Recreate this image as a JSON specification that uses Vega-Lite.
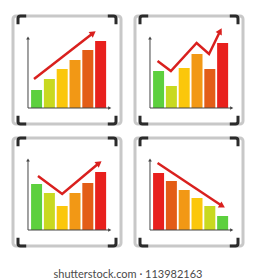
{
  "$schema": "https://vega.github.io/schema/vega-lite/v6.json",
  "padding": {"left": 10, "top": 8, "right": 0, "bottom": 0},
  "background": "#ffffff",
  "bounds": "flush",
  "title": {"text": "shutterstock.com · 113982163", "orient": "bottom", "anchor": "middle", "font": "Lato", "fontSize": 11, "fontWeight": "normal", "color": "#4a4a4a", "offset": 15, "baseline": "top"},
  "datasets": {
    "bars1": [{"x": 1, "y": 18, "level": 1}, {"x": 2, "y": 29, "level": 2}, {"x": 3, "y": 39, "level": 3}, {"x": 4, "y": 48, "level": 4}, {"x": 5, "y": 58, "level": 5}, {"x": 6, "y": 67, "level": 6}],
    "bars2": [{"x": 1, "y": 37, "level": 1}, {"x": 2, "y": 22, "level": 2}, {"x": 3, "y": 40, "level": 3}, {"x": 4, "y": 54, "level": 4}, {"x": 5, "y": 39, "level": 5}, {"x": 6, "y": 65, "level": 6}],
    "bars3": [{"x": 1, "y": 46, "level": 1}, {"x": 2, "y": 37, "level": 2}, {"x": 3, "y": 24, "level": 3}, {"x": 4, "y": 37, "level": 4}, {"x": 5, "y": 47, "level": 5}, {"x": 6, "y": 58, "level": 6}],
    "bars4": [{"x": 1, "y": 57, "level": 6}, {"x": 2, "y": 49, "level": 5}, {"x": 3, "y": 40, "level": 4}, {"x": 4, "y": 32, "level": 3}, {"x": 5, "y": 24, "level": 2}, {"x": 6, "y": 14, "level": 1}],
    "line1": [{"x": 0.8, "y": 29}, {"x": 5.42, "y": 75}],
    "line2": [{"x": 0.92, "y": 47}, {"x": 1.96, "y": 37}, {"x": 3.97, "y": 65}, {"x": 4.94, "y": 54}, {"x": 5.81, "y": 77}],
    "line3": [{"x": 1.11, "y": 54}, {"x": 3.0, "y": 36}, {"x": 5.88, "y": 67}],
    "line4": [{"x": 0.92, "y": 67}, {"x": 5.97, "y": 24}],
    "one": [{}]
  },
  "columns": 2,
  "spacing": 14,
  "concat": [
    {
      "width": 108, "height": 108,
      "layer": [
        {"data": {"name": "bars1"}, "mark": {"type": "bar", "size": 11, "orient": "vertical"},
         "encoding": {
           "x": {"field": "x", "type": "quantitative", "title": null, "scale": {"domain": [-0.45, 7.2], "nice": false, "zero": false}, "axis": {"disable": false, "values": [-0.261, 0.33, 0.921, 1.512, 2.103, 2.694, 3.285, 3.876, 4.467, 5.058, 5.649, 6.24, 6.832], "grid": true, "gridColor": "#cccccc", "gridOpacity": 1, "gridWidth": 1, "domain": false, "ticks": false, "labels": false}},
           "y": {"field": "y", "type": "quantitative", "title": null, "scale": {"domain": [-16, 92], "nice": false, "zero": false}, "axis": {"disable": false, "values": [-10.67, -2.33, 6, 14.33, 22.67, 31, 39.33, 47.67, 56, 64.33, 72.67, 81, 89.33], "grid": true, "gridColor": "#cccccc", "gridOpacity": 1, "gridWidth": 1, "domain": false, "ticks": false, "labels": false}},
           "color": {"field": "level", "type": "ordinal", "scale": {"domain": [1, 2, 3, 4, 5, 6], "range": ["#5dd03e", "#c8d920", "#fbc70b", "#f29815", "#e35d17", "#e8201d"]}, "legend": null}}},
        {"data": {"name": "one"}, "mark": {"type": "rule", "color": "#454545", "strokeWidth": 1}, "encoding": {"x": {"datum": 0.33, "axis": null}, "y": {"datum": 0, "axis": null}, "y2": {"datum": 70}}},
        {"data": {"name": "one"}, "mark": {"type": "rule", "color": "#454545", "strokeWidth": 1}, "encoding": {"x": {"datum": 0.33, "axis": null}, "x2": {"datum": 6.71}, "y": {"datum": 0, "axis": null}}},
        {"data": {"name": "one"}, "mark": {"type": "point", "shape": "triangle-up", "filled": true, "size": 14, "color": "#454545", "opacity": 1}, "encoding": {"x": {"datum": 0.33, "axis": null}, "y": {"datum": 70, "axis": null}}},
        {"data": {"name": "one"}, "mark": {"type": "point", "shape": "triangle-right", "filled": true, "size": 14, "color": "#454545", "opacity": 1}, "encoding": {"x": {"datum": 6.71, "axis": null}, "y": {"datum": 0, "axis": null}}},
        {"data": {"name": "line1"}, "mark": {"type": "line", "color": "#d9201e", "strokeWidth": 2.5}, "encoding": {"x": {"field": "x", "type": "quantitative", "axis": null}, "y": {"field": "y", "type": "quantitative", "axis": null}}},
        {"data": {"name": "one"}, "mark": {"type": "point", "shape": "triangle-up", "filled": true, "size": 50, "color": "#d9201e", "angle": 54, "opacity": 1}, "encoding": {"x": {"datum": 5.42, "axis": null}, "y": {"datum": 75, "axis": null}}},
        {"data": {"name": "one"}, "mark": {"type": "point", "shape": "M 0 2.6 L 0 0.8 Q 0 0 0.8 0 L 2.6 0", "filled": false, "size": 40, "stroke": "#2b2b2b", "strokeWidth": 3, "opacity": 1}, "encoding": {"x": {"datum": -0.45, "axis": null}, "y": {"datum": 92, "axis": null}}},
        {"data": {"name": "one"}, "mark": {"type": "point", "shape": "M 0 2.6 L 0 0.8 Q 0 0 -0.8 0 L -2.6 0", "filled": false, "size": 40, "stroke": "#2b2b2b", "strokeWidth": 3, "opacity": 1}, "encoding": {"x": {"datum": 7.2, "axis": null}, "y": {"datum": 92, "axis": null}}},
        {"data": {"name": "one"}, "mark": {"type": "point", "shape": "M 0 -2.6 L 0 -0.8 Q 0 0 0.8 0 L 2.6 0", "filled": false, "size": 40, "stroke": "#2b2b2b", "strokeWidth": 3, "opacity": 1}, "encoding": {"x": {"datum": -0.45, "axis": null}, "y": {"datum": -16, "axis": null}}},
        {"data": {"name": "one"}, "mark": {"type": "point", "shape": "M 0 -2.6 L 0 -0.8 Q 0 0 -0.8 0 L -2.6 0", "filled": false, "size": 40, "stroke": "#2b2b2b", "strokeWidth": 3, "opacity": 1}, "encoding": {"x": {"datum": 7.2, "axis": null}, "y": {"datum": -16, "axis": null}}}
      ]
    },
    {
      "width": 108, "height": 108,
      "layer": [
        {"data": {"name": "bars2"}, "mark": {"type": "bar", "size": 11, "orient": "vertical"},
         "encoding": {
           "x": {"field": "x", "type": "quantitative", "title": null, "scale": {"domain": [-0.45, 7.2], "nice": false, "zero": false}, "axis": {"disable": false, "values": [-0.261, 0.33, 0.921, 1.512, 2.103, 2.694, 3.285, 3.876, 4.467, 5.058, 5.649, 6.24, 6.832], "grid": true, "gridColor": "#cccccc", "gridOpacity": 1, "gridWidth": 1, "domain": false, "ticks": false, "labels": false}},
           "y": {"field": "y", "type": "quantitative", "title": null, "scale": {"domain": [-16, 92], "nice": false, "zero": false}, "axis": {"disable": false, "values": [-10.67, -2.33, 6, 14.33, 22.67, 31, 39.33, 47.67, 56, 64.33, 72.67, 81, 89.33], "grid": true, "gridColor": "#cccccc", "gridOpacity": 1, "gridWidth": 1, "domain": false, "ticks": false, "labels": false}},
           "color": {"field": "level", "type": "ordinal", "scale": {"domain": [1, 2, 3, 4, 5, 6], "range": ["#5dd03e", "#c8d920", "#fbc70b", "#f29815", "#e35d17", "#e8201d"]}, "legend": null}}},
        {"data": {"name": "one"}, "mark": {"type": "rule", "color": "#454545", "strokeWidth": 1}, "encoding": {"x": {"datum": 0.33, "axis": null}, "y": {"datum": 0, "axis": null}, "y2": {"datum": 70}}},
        {"data": {"name": "one"}, "mark": {"type": "rule", "color": "#454545", "strokeWidth": 1}, "encoding": {"x": {"datum": 0.33, "axis": null}, "x2": {"datum": 6.71}, "y": {"datum": 0, "axis": null}}},
        {"data": {"name": "one"}, "mark": {"type": "point", "shape": "triangle-up", "filled": true, "size": 14, "color": "#454545", "opacity": 1}, "encoding": {"x": {"datum": 0.33, "axis": null}, "y": {"datum": 70, "axis": null}}},
        {"data": {"name": "one"}, "mark": {"type": "point", "shape": "triangle-right", "filled": true, "size": 14, "color": "#454545", "opacity": 1}, "encoding": {"x": {"datum": 6.71, "axis": null}, "y": {"datum": 0, "axis": null}}},
        {"data": {"name": "line2"}, "mark": {"type": "line", "color": "#d9201e", "strokeWidth": 2.5}, "encoding": {"x": {"field": "x", "type": "quantitative", "axis": null}, "y": {"field": "y", "type": "quantitative", "axis": null}}},
        {"data": {"name": "one"}, "mark": {"type": "point", "shape": "triangle-up", "filled": true, "size": 50, "color": "#d9201e", "angle": 29, "opacity": 1}, "encoding": {"x": {"datum": 5.81, "axis": null}, "y": {"datum": 77, "axis": null}}},
        {"data": {"name": "one"}, "mark": {"type": "point", "shape": "M 0 2.6 L 0 0.8 Q 0 0 0.8 0 L 2.6 0", "filled": false, "size": 40, "stroke": "#2b2b2b", "strokeWidth": 3, "opacity": 1}, "encoding": {"x": {"datum": -0.45, "axis": null}, "y": {"datum": 92, "axis": null}}},
        {"data": {"name": "one"}, "mark": {"type": "point", "shape": "M 0 2.6 L 0 0.8 Q 0 0 -0.8 0 L -2.6 0", "filled": false, "size": 40, "stroke": "#2b2b2b", "strokeWidth": 3, "opacity": 1}, "encoding": {"x": {"datum": 7.2, "axis": null}, "y": {"datum": 92, "axis": null}}},
        {"data": {"name": "one"}, "mark": {"type": "point", "shape": "M 0 -2.6 L 0 -0.8 Q 0 0 0.8 0 L 2.6 0", "filled": false, "size": 40, "stroke": "#2b2b2b", "strokeWidth": 3, "opacity": 1}, "encoding": {"x": {"datum": -0.45, "axis": null}, "y": {"datum": -16, "axis": null}}},
        {"data": {"name": "one"}, "mark": {"type": "point", "shape": "M 0 -2.6 L 0 -0.8 Q 0 0 -0.8 0 L -2.6 0", "filled": false, "size": 40, "stroke": "#2b2b2b", "strokeWidth": 3, "opacity": 1}, "encoding": {"x": {"datum": 7.2, "axis": null}, "y": {"datum": -16, "axis": null}}}
      ]
    },
    {
      "width": 108, "height": 108,
      "layer": [
        {"data": {"name": "bars3"}, "mark": {"type": "bar", "size": 11, "orient": "vertical"},
         "encoding": {
           "x": {"field": "x", "type": "quantitative", "title": null, "scale": {"domain": [-0.45, 7.2], "nice": false, "zero": false}, "axis": {"disable": false, "values": [-0.261, 0.33, 0.921, 1.512, 2.103, 2.694, 3.285, 3.876, 4.467, 5.058, 5.649, 6.24, 6.832], "grid": true, "gridColor": "#cccccc", "gridOpacity": 1, "gridWidth": 1, "domain": false, "ticks": false, "labels": false}},
           "y": {"field": "y", "type": "quantitative", "title": null, "scale": {"domain": [-16, 92], "nice": false, "zero": false}, "axis": {"disable": false, "values": [-10.67, -2.33, 6, 14.33, 22.67, 31, 39.33, 47.67, 56, 64.33, 72.67, 81, 89.33], "grid": true, "gridColor": "#cccccc", "gridOpacity": 1, "gridWidth": 1, "domain": false, "ticks": false, "labels": false}},
           "color": {"field": "level", "type": "ordinal", "scale": {"domain": [1, 2, 3, 4, 5, 6], "range": ["#5dd03e", "#c8d920", "#fbc70b", "#f29815", "#e35d17", "#e8201d"]}, "legend": null}}},
        {"data": {"name": "one"}, "mark": {"type": "rule", "color": "#454545", "strokeWidth": 1}, "encoding": {"x": {"datum": 0.33, "axis": null}, "y": {"datum": 0, "axis": null}, "y2": {"datum": 70}}},
        {"data": {"name": "one"}, "mark": {"type": "rule", "color": "#454545", "strokeWidth": 1}, "encoding": {"x": {"datum": 0.33, "axis": null}, "x2": {"datum": 6.71}, "y": {"datum": 0, "axis": null}}},
        {"data": {"name": "one"}, "mark": {"type": "point", "shape": "triangle-up", "filled": true, "size": 14, "color": "#454545", "opacity": 1}, "encoding": {"x": {"datum": 0.33, "axis": null}, "y": {"datum": 70, "axis": null}}},
        {"data": {"name": "one"}, "mark": {"type": "point", "shape": "triangle-right", "filled": true, "size": 14, "color": "#454545", "opacity": 1}, "encoding": {"x": {"datum": 6.71, "axis": null}, "y": {"datum": 0, "axis": null}}},
        {"data": {"name": "line3"}, "mark": {"type": "line", "color": "#d9201e", "strokeWidth": 2.5}, "encoding": {"x": {"field": "x", "type": "quantitative", "axis": null}, "y": {"field": "y", "type": "quantitative", "axis": null}}},
        {"data": {"name": "one"}, "mark": {"type": "point", "shape": "triangle-up", "filled": true, "size": 50, "color": "#d9201e", "angle": 53, "opacity": 1}, "encoding": {"x": {"datum": 5.88, "axis": null}, "y": {"datum": 67, "axis": null}}},
        {"data": {"name": "one"}, "mark": {"type": "point", "shape": "M 0 2.6 L 0 0.8 Q 0 0 0.8 0 L 2.6 0", "filled": false, "size": 40, "stroke": "#2b2b2b", "strokeWidth": 3, "opacity": 1}, "encoding": {"x": {"datum": -0.45, "axis": null}, "y": {"datum": 92, "axis": null}}},
        {"data": {"name": "one"}, "mark": {"type": "point", "shape": "M 0 2.6 L 0 0.8 Q 0 0 -0.8 0 L -2.6 0", "filled": false, "size": 40, "stroke": "#2b2b2b", "strokeWidth": 3, "opacity": 1}, "encoding": {"x": {"datum": 7.2, "axis": null}, "y": {"datum": 92, "axis": null}}},
        {"data": {"name": "one"}, "mark": {"type": "point", "shape": "M 0 -2.6 L 0 -0.8 Q 0 0 0.8 0 L 2.6 0", "filled": false, "size": 40, "stroke": "#2b2b2b", "strokeWidth": 3, "opacity": 1}, "encoding": {"x": {"datum": -0.45, "axis": null}, "y": {"datum": -16, "axis": null}}},
        {"data": {"name": "one"}, "mark": {"type": "point", "shape": "M 0 -2.6 L 0 -0.8 Q 0 0 -0.8 0 L -2.6 0", "filled": false, "size": 40, "stroke": "#2b2b2b", "strokeWidth": 3, "opacity": 1}, "encoding": {"x": {"datum": 7.2, "axis": null}, "y": {"datum": -16, "axis": null}}}
      ]
    },
    {
      "width": 108, "height": 108,
      "layer": [
        {"data": {"name": "bars4"}, "mark": {"type": "bar", "size": 11, "orient": "vertical"},
         "encoding": {
           "x": {"field": "x", "type": "quantitative", "title": null, "scale": {"domain": [-0.45, 7.2], "nice": false, "zero": false}, "axis": {"disable": false, "values": [-0.261, 0.33, 0.921, 1.512, 2.103, 2.694, 3.285, 3.876, 4.467, 5.058, 5.649, 6.24, 6.832], "grid": true, "gridColor": "#cccccc", "gridOpacity": 1, "gridWidth": 1, "domain": false, "ticks": false, "labels": false}},
           "y": {"field": "y", "type": "quantitative", "title": null, "scale": {"domain": [-16, 92], "nice": false, "zero": false}, "axis": {"disable": false, "values": [-10.67, -2.33, 6, 14.33, 22.67, 31, 39.33, 47.67, 56, 64.33, 72.67, 81, 89.33], "grid": true, "gridColor": "#cccccc", "gridOpacity": 1, "gridWidth": 1, "domain": false, "ticks": false, "labels": false}},
           "color": {"field": "level", "type": "ordinal", "scale": {"domain": [1, 2, 3, 4, 5, 6], "range": ["#5dd03e", "#c8d920", "#fbc70b", "#f29815", "#e35d17", "#e8201d"]}, "legend": null}}},
        {"data": {"name": "one"}, "mark": {"type": "rule", "color": "#454545", "strokeWidth": 1}, "encoding": {"x": {"datum": 0.33, "axis": null}, "y": {"datum": 0, "axis": null}, "y2": {"datum": 70}}},
        {"data": {"name": "one"}, "mark": {"type": "rule", "color": "#454545", "strokeWidth": 1}, "encoding": {"x": {"datum": 0.33, "axis": null}, "x2": {"datum": 6.71}, "y": {"datum": 0, "axis": null}}},
        {"data": {"name": "one"}, "mark": {"type": "point", "shape": "triangle-up", "filled": true, "size": 14, "color": "#454545", "opacity": 1}, "encoding": {"x": {"datum": 0.33, "axis": null}, "y": {"datum": 70, "axis": null}}},
        {"data": {"name": "one"}, "mark": {"type": "point", "shape": "triangle-right", "filled": true, "size": 14, "color": "#454545", "opacity": 1}, "encoding": {"x": {"datum": 6.71, "axis": null}, "y": {"datum": 0, "axis": null}}},
        {"data": {"name": "line4"}, "mark": {"type": "line", "color": "#d9201e", "strokeWidth": 2.5}, "encoding": {"x": {"field": "x", "type": "quantitative", "axis": null}, "y": {"field": "y", "type": "quantitative", "axis": null}}},
        {"data": {"name": "one"}, "mark": {"type": "point", "shape": "triangle-up", "filled": true, "size": 50, "color": "#d9201e", "angle": 121, "opacity": 1}, "encoding": {"x": {"datum": 5.97, "axis": null}, "y": {"datum": 24, "axis": null}}},
        {"data": {"name": "one"}, "mark": {"type": "point", "shape": "M 0 2.6 L 0 0.8 Q 0 0 0.8 0 L 2.6 0", "filled": false, "size": 40, "stroke": "#2b2b2b", "strokeWidth": 3, "opacity": 1}, "encoding": {"x": {"datum": -0.45, "axis": null}, "y": {"datum": 92, "axis": null}}},
        {"data": {"name": "one"}, "mark": {"type": "point", "shape": "M 0 2.6 L 0 0.8 Q 0 0 -0.8 0 L -2.6 0", "filled": false, "size": 40, "stroke": "#2b2b2b", "strokeWidth": 3, "opacity": 1}, "encoding": {"x": {"datum": 7.2, "axis": null}, "y": {"datum": 92, "axis": null}}},
        {"data": {"name": "one"}, "mark": {"type": "point", "shape": "M 0 -2.6 L 0 -0.8 Q 0 0 0.8 0 L 2.6 0", "filled": false, "size": 40, "stroke": "#2b2b2b", "strokeWidth": 3, "opacity": 1}, "encoding": {"x": {"datum": -0.45, "axis": null}, "y": {"datum": -16, "axis": null}}},
        {"data": {"name": "one"}, "mark": {"type": "point", "shape": "M 0 -2.6 L 0 -0.8 Q 0 0 -0.8 0 L -2.6 0", "filled": false, "size": 40, "stroke": "#2b2b2b", "strokeWidth": 3, "opacity": 1}, "encoding": {"x": {"datum": 7.2, "axis": null}, "y": {"datum": -16, "axis": null}}}
      ]
    }
  ],
  "config": {
    "view": {"stroke": "#c8c8c8", "strokeWidth": 3, "cornerRadius": 3}
  }
}
